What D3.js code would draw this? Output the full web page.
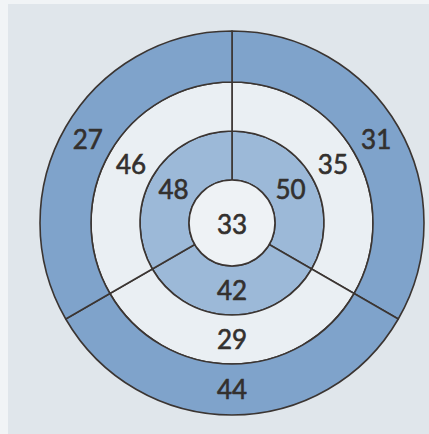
<!DOCTYPE html>
<html>
<head>
<meta charset="utf-8">
<script src="https://cdn.jsdelivr.net/npm/d3@7"></script>
<style>
html,body{margin:0;padding:0;background:#e0e6eb;}
svg{display:block;}
</style>
</head>
<body>
<svg id="chart" width="429" height="434"></svg>
<script>
// Sectors (clockwise from 12 o'clock)
const sectors = ["right", "bottom", "left"];
// Ring values per sector
const centerValue = 33;
const innerRing = [50, 42, 48];
const middleRing = [35, 29, 46];
const outerRing = [31, 44, 27];
const ringNames = ["inner", "middle", "outer"];

const W = 429, H = 434;
const cx = 232, cy = 223;
const radii = [43, 92, 141, 192];
const ringFill = ["#9cb9d8", "#eaeff3", "#7fa3cb"];
const stroke = "#3b3532";

const svg = d3.select("#chart");
svg.append("rect").attr("width", W).attr("height", H).attr("fill", "#e0e6eb");
svg.append("rect").attr("width", 8).attr("height", H).attr("fill", "#f1f4f6");
svg.append("rect").attr("width", W).attr("height", 4).attr("fill", "#f1f4f6");

const g = svg.append("g").attr("transform", `translate(${cx},${cy})`);

const angle = d3.scaleBand().domain(sectors).range([0, 2 * Math.PI]);
const ringValues = [innerRing, middleRing, outerRing];

const cells = [];
ringValues.forEach((vals, ri) => {
  sectors.forEach((s, si) => {
    cells.push({ring: ri, sector: s, value: vals[si]});
  });
});

const arc = d3.arc()
  .innerRadius(d => radii[d.ring])
  .outerRadius(d => radii[d.ring + 1])
  .startAngle(d => angle(d.sector))
  .endAngle(d => angle(d.sector) + angle.bandwidth());

g.selectAll("path.cell").data(cells).join("path")
  .attr("class", "cell")
  .attr("d", arc)
  .attr("fill", d => ringFill[d.ring])
  .attr("stroke", stroke)
  .attr("stroke-width", 1.6)
  .attr("stroke-linejoin", "round");

g.append("circle").attr("r", radii[0])
  .attr("fill", "#eef2f5").attr("stroke", stroke).attr("stroke-width", 1.6);

const font = "Lato, 'Open Sans', sans-serif";
const fs = 26;
const txtColor = "#33302e";
g.selectAll("text.cell").data(cells).join("text")
  .attr("class", "cell")
  .attr("transform", d => `translate(${arc.centroid(d)})`)
  .attr("text-anchor", "middle")
  .attr("dy", "0.36em")
  .attr("font-family", font)
  .attr("font-size", fs)
  .attr("fill", txtColor)
  .attr("stroke", txtColor)
  .attr("stroke-width", 0.6)
  .text(d => d.value);

g.append("text").attr("text-anchor", "middle").attr("dy", "0.36em").attr("y", 2)
  .attr("font-family", font).attr("font-size", fs).attr("fill", txtColor)
  .attr("stroke", txtColor).attr("stroke-width", 0.6)
  .text(centerValue);
</script>
</body>
</html>
